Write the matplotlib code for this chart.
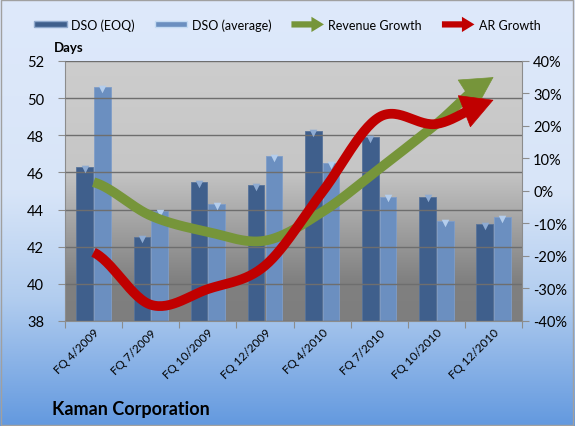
import numpy as np
import matplotlib
matplotlib.use('Agg')
import matplotlib.pyplot as plt
from matplotlib.colors import LinearSegmentedColormap
from matplotlib.patches import Patch, Rectangle, FancyArrow
from matplotlib.legend_handler import HandlerPatch

plt.rcParams['font.family'] = ['Lato', 'DejaVu Sans']

# data
quarters = ['FQ 4/2009', 'FQ 7/2009', 'FQ 10/2009', 'FQ 12/2009',
            'FQ 4/2010', 'FQ 7/2010', 'FQ 10/2010', 'FQ 12/2010']
dso_eoq = [46.3, 42.5, 45.5, 45.3, 48.2, 47.9, 44.7, 43.2]
dso_avg = [50.6, 43.9, 44.3, 46.9, 46.5, 44.7, 43.4, 43.6]
revenue_growth = [2.7, -7.6, -12.6, -15.3, -6.5, 6.8, 20.6, 35.0]
ar_growth = [-18.9, -35.0, -30.2, -23.0, -0.4, 22.7, 20.6, 28.0]

EOQ_COLOR = '#3f5f8c'
AVG_COLOR = '#6b8fc0'
GREEN = '#76953a'
RED = '#c00000'


def catmull_rom(y, steps=30):
    # smoothed line like Excel's "smoothed line" option
    y = np.asarray(y, float)
    xs, ys = [], []
    n = len(y)
    for i in range(n - 1):
        p0 = y[max(i - 1, 0)]
        p1 = y[i]
        p2 = y[i + 1]
        p3 = y[min(i + 2, n - 1)]
        t = np.linspace(0, 1, steps, endpoint=False)
        yy = 0.5 * ((2 * p1) + (-p0 + p2) * t +
                    (2 * p0 - 5 * p1 + 4 * p2 - p3) * t ** 2 +
                    (-p0 + 3 * p1 - 3 * p2 + p3) * t ** 3)
        xs.append(i + t)
        ys.append(yy)
    xs.append([n - 1])
    ys.append([y[-1]])
    return np.concatenate(xs), np.concatenate(ys)


fig = plt.figure(figsize=(5.75, 4.27), dpi=100)

# figure background gradient
bg = fig.add_axes([0, 0, 1, 1], zorder=-10)
bg_cmap = LinearSegmentedColormap.from_list(
    'bg', [(0, '#dee9fb'), (0.45, '#d8e5f8'), (0.7, '#b2cdef'), (1, '#6399df')])
bg.imshow(np.linspace(0, 1, 256).reshape(-1, 1), aspect='auto', cmap=bg_cmap,
          extent=[0, 1, 1, 0])
bg.set_xlim(0, 1)
bg.set_ylim(1, 0)
bg.axis('off')
fig.patches.append(Rectangle((0.002, 0.002), 0.995, 0.995, transform=fig.transFigure,
                             fill=False, edgecolor='#a0a0a0', lw=1))

ax = fig.add_axes([0.113, 0.246, 0.795, 0.609])
x = np.arange(len(quarters))

# plot area gradient
pa_cmap = LinearSegmentedColormap.from_list(
    'pa', [(0, '#cdcdcd'), (0.42, '#c6c6c6'), (0.62, '#a4a4a4'), (0.85, '#808080'), (1, '#7e7e7e')])
ax.imshow(np.linspace(0, 1, 256).reshape(-1, 1), aspect='auto', cmap=pa_cmap,
          extent=[-0.5, len(quarters) - 0.5, 38, 52], zorder=0)

w = 0.29
ax.bar(x - w / 2 - 0.01, [v - 38 for v in dso_eoq], width=w, bottom=38, color=EOQ_COLOR,
       edgecolor='#58739a', lw=0.6, zorder=2, label='DSO (EOQ)')
ax.bar(x + w / 2 + 0.01, [v - 38 for v in dso_avg], width=w, bottom=38, color=AVG_COLOR,
       edgecolor='#7f9dc8', lw=0.6, zorder=2, label='DSO (average)')
# light bevel on bar tops
ax.scatter(x - w / 2 - 0.01, np.array(dso_eoq) - 0.1, marker='v', s=30, color='#8eabd2',
           zorder=3, lw=0)
ax.scatter(x + w / 2 + 0.01, np.array(dso_avg) - 0.1, marker='v', s=30, color='#b4cdec',
           zorder=3, lw=0)

ax.set_xlim(-0.5, len(quarters) - 0.5)
ax.set_ylim(38, 52)
ax.set_yticks(range(38, 53, 2))
ax.grid(axis='y', color='#6e6e6e', lw=1)
ax.set_axisbelow(False)
for gl in ax.get_ygridlines():
    gl.set_zorder(1)
ax.set_xticks(np.arange(-0.5, len(quarters), 1), minor=False)
ax.set_xticklabels([])
ax.set_xticks(x, minor=True)
ax.set_xticklabels(quarters, minor=True, rotation=45, ha='right', rotation_mode='anchor',
                   fontsize=8.5)
ax.tick_params(axis='x', which='minor', length=0, pad=4)
ax.tick_params(axis='x', which='major', length=5, color='#8c8c8c')
ax.tick_params(axis='y', length=5, color='#8c8c8c', labelsize=10.5, pad=10)
for s in ['top', 'right']:
    ax.spines[s].set_visible(False)
ax.spines['left'].set_color('#8c8c8c')
ax.spines['bottom'].set_color('#8c8c8c')

ax2 = ax.twinx()
ax2.set_ylim(-40, 40)
ax2.set_yticks(range(-40, 41, 10))
ax2.set_yticklabels([f'{v}%' for v in range(-40, 41, 10)])
ax2.tick_params(axis='y', length=5, color='#8c8c8c', labelsize=10.5, pad=3)
for s in ['top', 'left', 'bottom']:
    ax2.spines[s].set_visible(False)
ax2.spines['right'].set_color('#8c8c8c')

for vals, col in [(revenue_growth, GREEN), (ar_growth, RED)]:
    sx, sy = catmull_rom(vals)
    cut = sx <= len(vals) - 1.28
    ax2.plot(sx[cut], sy[cut], color=col, lw=7, solid_capstyle='butt', zorder=4)
    k = np.searchsorted(sx, len(vals) - 1.35)
    ax2.annotate('', xy=(sx[-1], sy[-1]), xytext=(sx[k], sy[k]),
                 arrowprops=dict(arrowstyle='-|>,head_length=1.1,head_width=0.6',
                                 color=col, lw=0.5, mutation_scale=20,
                                 shrinkA=0, shrinkB=0), zorder=5)


class ArrowHandler(HandlerPatch):
    def create_artists(self, legend, orig_handle, xdescent, ydescent, width, height,
                       fontsize, trans):
        arr = FancyArrow(-xdescent, height / 2 - ydescent, width, 0,
                         width=4.5, head_width=11, head_length=9,
                         length_includes_head=True, color=orig_handle.get_facecolor(),
                         lw=0, transform=trans)
        return [arr]


handles = [Patch(facecolor=EOQ_COLOR, edgecolor='#8fa8cc'),
           Patch(facecolor=AVG_COLOR, edgecolor='#c4dbf3'),
           Patch(facecolor=GREEN), Patch(facecolor=RED)]
labels = ['DSO (EOQ)', 'DSO (average)', 'Revenue Growth', 'AR Growth']
leg = fig.legend(handles, labels, loc='center', bbox_to_anchor=(0.5, 0.94), ncol=4,
                 frameon=False, fontsize=9, handlelength=2.6, handleheight=0.35,
                 columnspacing=1.6, handletextpad=0.35,
                 handler_map={handles[2]: ArrowHandler(), handles[3]: ArrowHandler()})

fig.text(0.093, 0.887, 'Days', fontsize=9.5, fontweight='bold', ha='left', va='center')
fig.text(0.09, 0.042, 'Kaman Corporation', fontsize=13, fontweight='bold', ha='left',
         va='center')

fig.savefig('out.png', dpi=100)
plt.close(fig)
